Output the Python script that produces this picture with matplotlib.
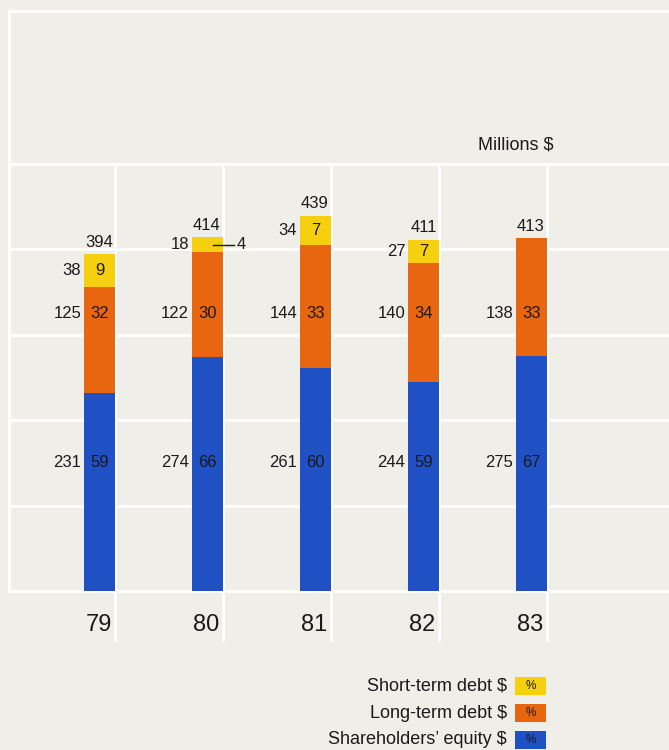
import matplotlib
matplotlib.use("Agg")
import matplotlib.pyplot as plt
from matplotlib.patches import Rectangle

# Capital structure, millions of dollars and percent of total
years = ["79", "80", "81", "82", "83"]
equity = [231, 274, 261, 244, 275]
long_debt = [125, 122, 144, 140, 138]
short_debt = [38, 18, 34, 27, 0]
totals = [394, 414, 439, 411, 413]
equity_pct = [59, 66, 60, 59, 67]
long_pct = [32, 30, 33, 34, 33]
short_pct = [9, 4, 7, 7, None]

legend_labels = ["Short-term debt $", "Long-term debt $", "Shareholders\u2019 equity $"]

BG = "#efeee9"
YELLOW = "#f6cf0e"
ORANGE = "#e8660f"
BLUE = "#1f50c4"
TXT = "#1a1a1a"

NUM = ["Liberation Sans Narrow", "Liberation Sans", "DejaVu Sans"]
REG = ["Liberation Sans", "DejaVu Sans"]

W, H = 669, 750
fig = plt.figure(figsize=(W / 100, H / 100), dpi=100, facecolor=BG)

# plot frame in pixel terms: left 9, right 669, top 11, baseline 591
px_per_unit = 0.855
left_px, right_px, top_px, base_px = 9, 669, 11, 591
ax = fig.add_axes([left_px / W, (H - base_px) / H,
                   (right_px - left_px) / W, (base_px - top_px) / H])
ax.set_facecolor(BG)
ymax = (base_px - top_px) / px_per_unit
ax.set_ylim(0, ymax)

step_px = 108.0
first_px = 99.5
ax.set_xlim((left_px - first_px) / step_px, (right_px - first_px) / step_px)
bw = 30.5 / step_px

for s in ax.spines.values():
    s.set_visible(False)
ax.set_xticks([])
ax.set_yticks([])

lw = 2.0
# frame lines
ax.axhline(ymax, color="white", lw=lw, zorder=1, clip_on=False)
ax.axvline(ax.get_xlim()[0], color="white", lw=lw, zorder=1, clip_on=False)
for g in [0, 100, 200, 300, 400, 500]:
    ax.axhline(g, color="white", lw=lw, zorder=1, clip_on=False)

xs = list(range(len(years)))
below = -57
for i in xs:
    xr = i + bw / 2
    ax.plot([xr, xr], [below, 500], color="white", lw=lw, zorder=1, clip_on=False)

ax.bar(xs, equity, width=bw, color=BLUE, zorder=3)
ax.bar(xs, long_debt, width=bw, bottom=equity, color=ORANGE, zorder=3)
lt = [e + l for e, l in zip(equity, long_debt)]
ax.bar(xs, short_debt, width=bw, bottom=lt, color=YELLOW, zorder=3)

fs = 12
gap = 3 / step_px
for i in xs:
    xl = i - bw / 2
    xr = i + bw / 2
    # equity and long-term labels sit on common rows
    ax.text(xl - gap, 150, str(equity[i]), ha="right", va="center",
            fontsize=fs, family=NUM, color=TXT, zorder=5)
    ax.text(i, 150, str(equity_pct[i]), ha="center", va="center",
            fontsize=fs, family=NUM, color=TXT, zorder=5)
    ax.text(xl - gap, 325, str(long_debt[i]), ha="right", va="center",
            fontsize=fs, family=NUM, color=TXT, zorder=5)
    ax.text(i, 325, str(long_pct[i]), ha="center", va="center",
            fontsize=fs, family=NUM, color=TXT, zorder=5)
    if short_debt[i]:
        ym = lt[i] + short_debt[i] / 2
        ax.text(xl - gap, ym, str(short_debt[i]), ha="right", va="center",
                fontsize=fs, family=NUM, color=TXT, zorder=5)
        if short_debt[i] >= 25:
            ax.text(i, ym, str(short_pct[i]), ha="center", va="center",
                    fontsize=fs, family=NUM, color=TXT, zorder=5)
        else:
            ax.plot([i + 5 / step_px, xr + 11 / step_px], [ym, ym],
                    color=TXT, lw=1.0, zorder=5, clip_on=False)
            ax.text(xr + 14 / step_px, ym, str(short_pct[i]), ha="left",
                    va="center", fontsize=fs, family=NUM, color=TXT, zorder=5)
    top = equity[i] + long_debt[i] + short_debt[i]
    ax.text(xr - 2 / step_px, top + 5, str(totals[i]), ha="right", va="bottom",
            fontsize=fs, family=NUM, color=TXT, zorder=5)
    ax.text(xr - 3 / step_px, -40, years[i], ha="right", va="center",
            fontsize=17, family=NUM, color=TXT, zorder=5, clip_on=False)

ax.text(4 + bw / 2 + 7 / step_px, 500 + 12, "Millions $", ha="right",
        va="bottom", fontsize=13, family=REG, color=TXT)

# legend with % swatches
sw_x, sw_w, sw_h = 515, 31, 18
rows_y = [686, 713, 740]
colors = [YELLOW, ORANGE, BLUE]
for lab, c, yc in zip(legend_labels, colors, rows_y):
    fig.patches.append(Rectangle((sw_x / W, (H - yc - sw_h / 2) / H), sw_w / W,
                                 sw_h / H, transform=fig.transFigure,
                                 facecolor=c, edgecolor="none"))
    fig.text((sw_x + sw_w / 2) / W, (H - yc) / H, "%", ha="center",
             va="center", fontsize=8.5, family=NUM, color=TXT)
    fig.text(507 / W, (H - yc) / H, lab, ha="right", va="center",
             fontsize=13, family=REG, color=TXT)

fig.savefig("out.png", dpi=100, facecolor=BG)
